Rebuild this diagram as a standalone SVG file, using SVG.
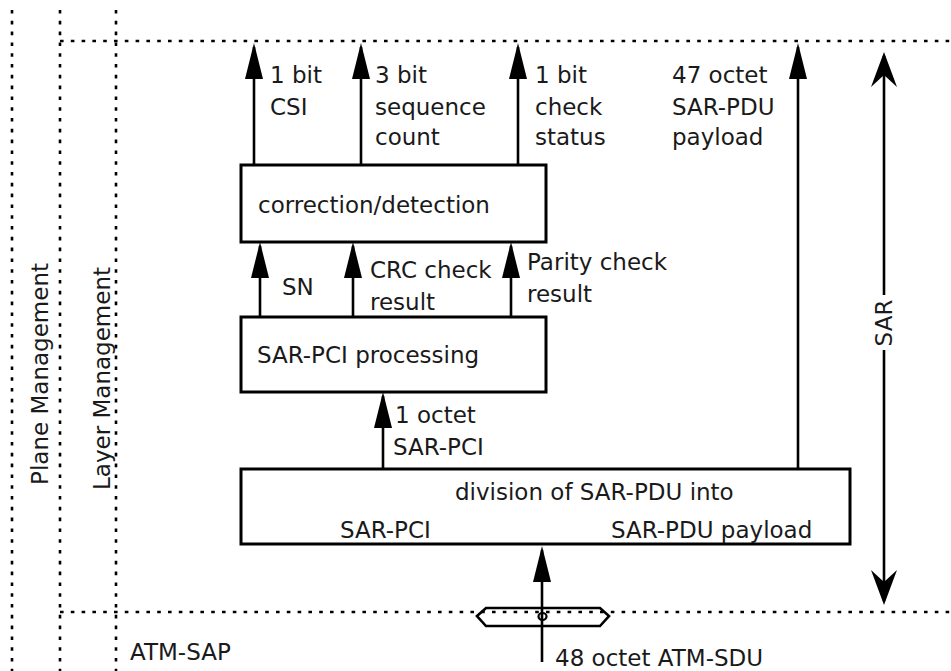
<svg xmlns="http://www.w3.org/2000/svg" width="951" height="671" viewBox="0 0 951 671">
<style>
.dot{fill:none;stroke:#000;stroke-width:2.6;stroke-dasharray:3.6 7.2}
.box{fill:#fff;stroke:#000;stroke-width:3}
.ln{fill:none;stroke:#000;stroke-width:2.6}
.ar{fill:none;stroke:#000;stroke-width:2.6;marker-end:url(#ah)}
text{font-family:"DejaVu Sans","Liberation Sans",sans-serif;font-size:23px;fill:#1a1a1a}
</style>
<defs>
<marker id="ah" markerUnits="userSpaceOnUse" viewBox="0 0 36 18" markerWidth="36" markerHeight="18" refX="32" refY="9" orient="auto">
<path d="M0,0 L36,9 L0,18 z" fill="#000"/>
</marker>
<marker id="nh" markerUnits="userSpaceOnUse" viewBox="0 0 35 26" markerWidth="35" markerHeight="26" refX="31" refY="13" orient="auto">
<path d="M0,0 L35,13 L0,26 L12,13 z" fill="#000"/>
</marker>
</defs>
<g id="frame">
<line class="dot" x1="12" y1="10" x2="12" y2="671"/>
<line class="dot" x1="60" y1="10" x2="60" y2="671"/>
<line class="dot" x1="116" y1="10" x2="116" y2="671"/>
<line class="dot" x1="60" y1="41" x2="951" y2="41"/>
<line class="dot" x1="60" y1="612" x2="951" y2="612"/>
<text transform="translate(48,263) rotate(-90)" text-anchor="end">Plane Management</text>
<text transform="translate(110,267) rotate(-90)" text-anchor="end">Layer Management</text>
<text x="130" y="660">ATM-SAP</text>
</g>
<g id="node-correction">
<rect class="box" x="241" y="165" width="305" height="77"/>
<text x="258" y="213">correction/detection</text>
</g>
<g id="node-sarpci">
<rect class="box" x="241" y="317" width="305" height="75"/>
<text x="257" y="363">SAR-PCI processing</text>
</g>
<g id="node-division">
<rect class="box" x="241" y="469" width="609" height="75"/>
<text x="455" y="500">division of SAR-PDU into</text>
<text x="340" y="538">SAR-PCI</text>
<text x="611" y="538">SAR-PDU payload</text>
</g>
<g id="node-sap">
<polygon points="477,616 486,608 600,608 609,616 600,626 486,626" fill="none" stroke="#000" stroke-width="2.6"/>
<ellipse cx="542.5" cy="616.5" rx="4" ry="3.5" fill="none" stroke="#000" stroke-width="2.2"/>
</g>
<g id="connectors">
<line class="ar" x1="254" y1="165" x2="254" y2="47"/>
<line class="ar" x1="361" y1="165" x2="361" y2="47"/>
<line class="ar" x1="518" y1="165" x2="518" y2="47"/>
<line class="ar" x1="260" y1="317" x2="260" y2="246"/>
<line class="ar" x1="353" y1="317" x2="353" y2="246"/>
<line class="ar" x1="511" y1="317" x2="511" y2="246"/>
<line class="ar" x1="383" y1="469" x2="383" y2="396"/>
<line class="ar" x1="798" y1="469" x2="798" y2="47"/>
<line class="ar" x1="542" y1="662" x2="542" y2="550"/>
<line class="ln" x1="884" y1="295" x2="884" y2="56" marker-end="url(#nh)"/>
<line class="ln" x1="884" y1="350" x2="884" y2="601" marker-end="url(#nh)"/>
</g>
<g id="labels">
<text x="270" y="83">1 bit</text>
<text x="270" y="115">CSI</text>
<text x="375" y="83">3 bit</text>
<text x="375" y="115">sequence</text>
<text x="375" y="145">count</text>
<text x="535" y="83">1 bit</text>
<text x="535" y="115">check</text>
<text x="535" y="145">status</text>
<text x="672" y="83">47 octet</text>
<text x="672" y="115">SAR-PDU</text>
<text x="672" y="145">payload</text>
<text x="282" y="295">SN</text>
<text x="370" y="278">CRC check</text>
<text x="370" y="310">result</text>
<text x="527" y="270">Parity check</text>
<text x="527" y="302">result</text>
<text x="395" y="423">1 octet</text>
<text x="393" y="455">SAR-PCI</text>
<text x="555" y="666">48 octet ATM-SDU</text>
<text transform="translate(892,323) rotate(-90)" text-anchor="middle">SAR</text>
</g>
</svg>
